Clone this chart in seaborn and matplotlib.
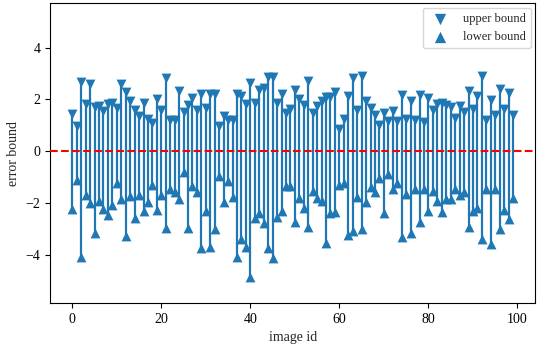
import numpy as np
import pandas as pd
import matplotlib
matplotlib.use("Agg")
import matplotlib.pyplot as plt
import seaborn as sns

# valores (id 0..99)
image_ids = list(range(100))

upper_bound = [
    1.45, 0.98, 2.67, 1.83, 2.60, 1.69, 1.73, 1.56, 1.82, 1.88,
    1.67, 2.60, 2.28, 1.92, 1.60, 1.35, 1.88, 1.26, 1.09, 2.03,
    1.60, 2.82, 1.19, 1.19, 2.33, 1.50, 1.79, 2.05, 1.60, 2.22,
    1.67, 2.22, 2.22, 0.99, 1.35, 1.19, 1.22, 2.22, 2.12, 1.83,
    2.65, 1.88, 2.35, 2.44, 2.88, 2.88, 1.86, 2.22, 1.47, 1.63,
    2.37, 2.01, 1.79, 2.72, 1.47, 1.73, 1.92, 2.08, 2.08, 2.28,
    0.87, 1.26, 2.15, 2.82, 1.60, 2.91, 1.92, 1.67, 1.41, 1.03,
    1.47, 1.15, 1.56, 1.15, 2.18, 1.26, 1.92, 1.22, 2.18, 1.13,
    2.05, 1.60, 1.83, 1.86, 1.79, 1.69, 1.28, 1.76, 1.50, 2.33,
    1.64, 2.15, 2.91, 1.19, 1.99, 1.38, 2.41, 1.64, 2.24, 1.41,
]

lower_bound = [
    -2.23, -1.12, -4.09, -1.69, -1.99, -3.17, -1.92, -2.21, -2.46, -2.08,
    -1.21, -1.86, -3.26, -1.73, -2.59, -1.69, -2.29, -1.95, -1.29, -2.27,
    -1.69, -2.97, -1.44, -1.59, -1.86, -0.79, -2.95, -1.33, -1.56, -3.74,
    -2.29, -3.71, -3.00, -0.95, -1.95, -1.14, -1.78, -4.06, -3.38, -3.68,
    -4.86, -2.59, -2.40, -2.78, -3.74, -4.12, -2.55, -2.29, -1.35, -1.35,
    -2.74, -1.82, -2.17, -2.91, -1.53, -1.82, -1.91, -3.55, -2.40, -2.36,
    -1.31, -1.24, -3.23, -3.06, -1.78, -3.00, -1.97, -1.37, -1.59, -1.05,
    -2.37, -0.86, -1.44, -1.21, -3.29, -1.65, -3.17, -1.47, -2.72, -1.47,
    -2.29, -1.53, -1.91, -2.33, -1.86, -1.86, -1.47, -1.69, -1.56, -2.91,
    -2.29, -2.18, -3.40, -1.44, -3.58, -1.47, -3.00, -2.27, -2.63, -1.82,
]

df = pd.DataFrame({"image_id": image_ids, "upper": upper_bound, "lower": lower_bound})

sns.set_style("ticks")
plt.rcParams["font.family"] = ["Liberation Serif", "DejaVu Serif"]
plt.rcParams["font.size"] = 10

fig, ax = plt.subplots(figsize=(5.46, 3.47), dpi=100)
fig.subplots_adjust(left=0.092, right=0.98, top=0.99, bottom=0.127)

blue = "#1f77b4"
ax.vlines(df["image_id"], df["lower"], df["upper"], color=blue, linewidth=1.6, zorder=2)
sns.scatterplot(data=df, x="image_id", y="upper", marker="v", s=50, color=blue,
                linewidth=0, label="upper bound", ax=ax, zorder=3)
sns.scatterplot(data=df, x="image_id", y="lower", marker="^", s=50, color=blue,
                linewidth=0, label="lower bound", ax=ax, zorder=3)
ax.axhline(0, color="red", linestyle="--", linewidth=1.5, zorder=4)

ax.set_xlim(-4.95, 103.95)
ax.set_ylim(-5.85, 5.7)
ax.set_yticks([-4, -2, 0, 2, 4])
ax.set_xlabel("image id")
ax.set_ylabel("error bound")
ax.tick_params(colors="black")
for s in ax.spines.values():
    s.set_color("black")
ax.legend(loc="upper right", fontsize=9, markerscale=1.15, borderaxespad=0.35)

fig.savefig("out.png", dpi=100)
